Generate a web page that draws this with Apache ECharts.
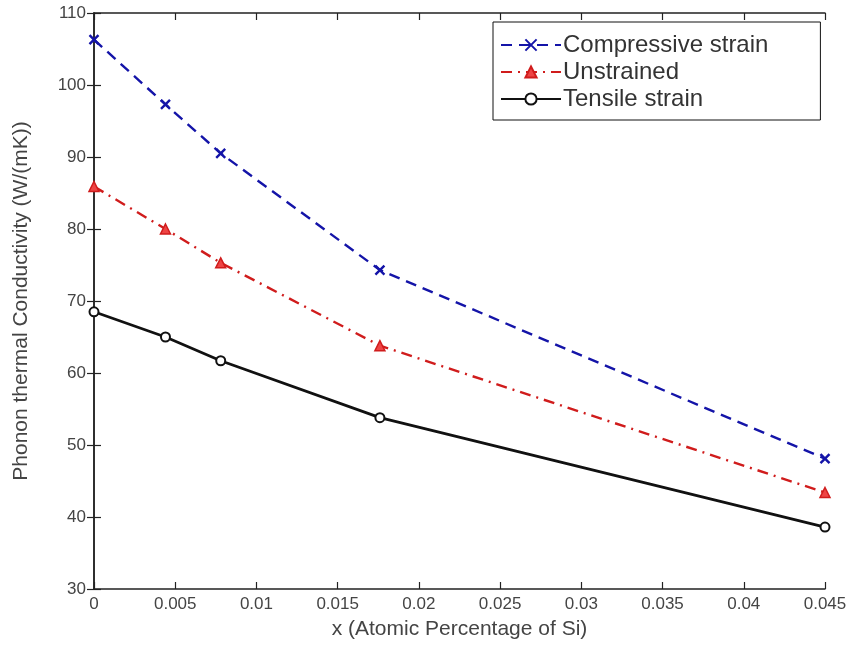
<!DOCTYPE html>
<html>
<head>
<meta charset="utf-8">
<script src="https://cdn.jsdelivr.net/npm/echarts@6/dist/echarts.min.js"></script>
<style>
  html, body { margin: 0; padding: 0; background: #fff; }
  #chart { width: 855px; height: 662px; }
</style>
</head>
<body>
<div id="chart"></div>
<script>
// Si content (atomic fraction) at which conductivity was computed
const siFraction = [0, 0.0044, 0.0078, 0.0176, 0.045];

// Phonon thermal conductivity, W/(mK)
const compressive = [106.3, 97.3, 90.5, 74.3, 48.1];
const unstrained  = [85.9, 80.0, 75.3, 63.8, 43.4];
const tensile     = [68.5, 65.0, 61.7, 53.8, 38.6];

const seriesNames = ['Compressive strain', 'Unstrained', 'Tensile strain'];

const xTicks = { min: 0, max: 0.045, interval: 0.005 };
const yTicks = { min: 30, max: 110, interval: 10 };

const pairs = ys => siFraction.map((x, i) => [x, ys[i]]);

const font = 'Liberation Sans, Arial, sans-serif';
const crossPath = 'path://M0,0L10,10M10,0L0,10';

const chart = echarts.init(document.getElementById('chart'), null, { renderer: 'canvas' });

const axisCommon = {
  axisLine: { show: true, lineStyle: { color: '#222', width: 1.5 } },
  axisTick: { show: true, inside: true, length: 7, lineStyle: { color: '#222', width: 1.2 } },
  splitLine: { show: false }
};

chart.setOption({
  backgroundColor: '#fff',
  animation: false,
  grid: { left: 94, right: 30, top: 13, bottom: 73, containLabel: false },
  legend: {
    data: seriesNames,
    orient: 'vertical',
    left: 493,
    top: 22,
    backgroundColor: '#fff',
    borderColor: '#111',
    borderWidth: 1,
    padding: [11, 52, 9, 7],
    itemGap: 3,
    itemWidth: 60,
    itemHeight: 14,
    textStyle: { fontFamily: font, fontSize: 24, color: '#333', padding: [0, 0, 0, -3] }
  },
  xAxis: [
    Object.assign({
      type: 'value', position: 'bottom',
      min: xTicks.min, max: xTicks.max, interval: xTicks.interval,
      name: 'x (Atomic Percentage of Si)',
      nameLocation: 'middle', nameGap: 30,
      nameTextStyle: { fontFamily: font, fontSize: 21, color: '#444' },
      axisLabel: { fontFamily: font, fontSize: 17, color: '#444', margin: 7 }
    }, axisCommon),
    Object.assign({
      type: 'value', position: 'top',
      min: xTicks.min, max: xTicks.max, interval: xTicks.interval,
      axisLabel: { show: false }
    }, axisCommon)
  ],
  yAxis: [
    Object.assign({
      type: 'value', position: 'left',
      min: yTicks.min, max: yTicks.max, interval: yTicks.interval,
      name: 'Phonon thermal Conductivity (W/(mK))',
      nameLocation: 'middle', nameGap: 62,
      nameTextStyle: { fontFamily: font, fontSize: 21, color: '#444' },
      axisLabel: { fontFamily: font, fontSize: 17, color: '#444', margin: 8 }
    }, axisCommon),
    Object.assign({
      type: 'value', position: 'right',
      min: yTicks.min, max: yTicks.max, interval: yTicks.interval,
      axisLabel: { show: false }
    }, axisCommon)
  ],
  series: [
    {
      name: seriesNames[0], type: 'line', data: pairs(compressive),
      symbol: crossPath, symbolSize: 9,
      lineStyle: { color: '#1414a8', width: 2.4, type: [11, 7] },
      itemStyle: { color: '#1414a8', borderColor: '#1414a8', borderWidth: 2.4 },
      z: 3
    },
    {
      name: seriesNames[1], type: 'line', data: pairs(unstrained),
      symbol: 'triangle', symbolSize: 10,
      lineStyle: { color: '#d01c1c', width: 2.4, type: [11, 6, 2, 6] },
      itemStyle: { color: '#ee4444', borderColor: '#d01c1c', borderWidth: 1.5 },
      z: 3
    },
    {
      name: seriesNames[2], type: 'line', data: pairs(tensile),
      symbol: 'circle', symbolSize: 9,
      lineStyle: { color: '#111', width: 2.8 },
      itemStyle: { color: '#fff', borderColor: '#111', borderWidth: 2 },
      z: 3
    }
  ]
});
</script>
</body>
</html>
